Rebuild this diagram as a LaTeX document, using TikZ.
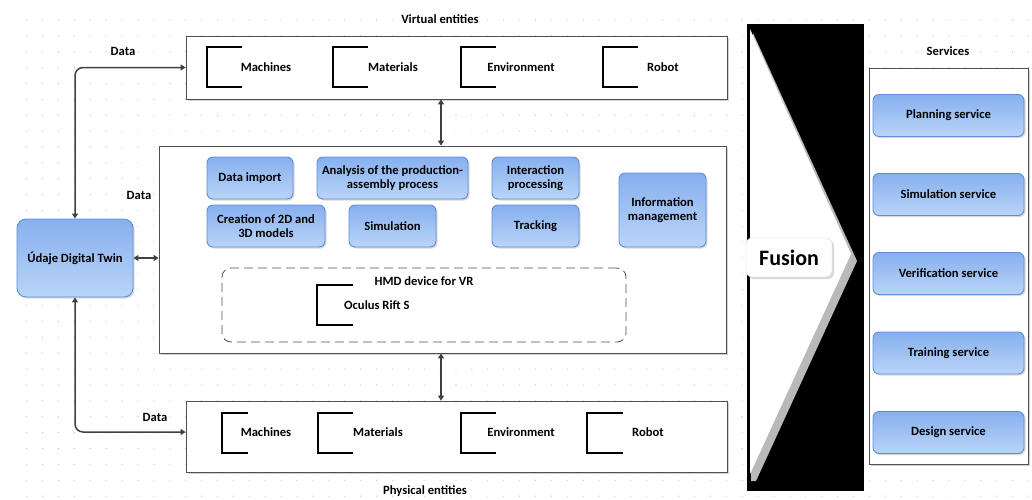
\documentclass[tikz,border=0pt]{standalone}
\usepackage{fontspec}
\setmainfont{Carlito}
\usetikzlibrary{arrows.meta,shadows,calc}
\definecolor{btop}{HTML}{86B0EE}
\definecolor{bbot}{HTML}{BAD4F8}
\definecolor{bdraw}{HTML}{5F8ED6}
\definecolor{linec}{HTML}{404040}
\definecolor{dotc}{HTML}{B0B0C4}
\definecolor{framec}{HTML}{505050}
\begin{document}
\begin{tikzpicture}[x=1pt,y=-1pt,
  font=\bfseries\fontsize{12.6}{13.5}\selectfont,
  framebox/.style={draw=framec, line width=0.8pt, fill=white,
    drop shadow={shadow xshift=2pt,shadow yshift=-2pt,opacity=0.35}},
  btn/.style={draw=bdraw, line width=0.9pt, rounded corners=6pt,
    top color=btop, bottom color=bbot, align=center, inner sep=2pt,
    drop shadow={shadow xshift=1.5pt,shadow yshift=-1.5pt,opacity=0.3}},
  bracketline/.style={line width=1.4pt, black},
  conn/.style={draw=linec, line width=1.5pt,
    {Triangle[length=5pt,width=6pt]}-{Triangle[length=5pt,width=6pt]}},
  lbl/.style={inner sep=0pt},
  brk/.pic={\draw[bracketline] (#1,0) -- (0,0) -- (0,40) -- (#1,40);}
]
\useasboundingbox (0,0) rectangle (1032,499);
\fill[white] (0,0) rectangle (1032,499);
% dotted grid
\foreach \i in {0,...,63}
  \foreach \j in {0,...,30}
    \fill[dotc] (26.7+\i*15.9, 20+\j*15.87) circle[radius=0.55pt];

% frames
\node[framebox, minimum width=541, minimum height=63] (top) at (456.5,67.5) {};
\node[framebox, minimum width=567, minimum height=207] (mid) at (442.5,249.5) {};
\node[framebox, minimum width=541, minimum height=71] (bot) at (456.5,436.5) {};
\node[framebox, minimum width=159, minimum height=396] (srv) at (948.5,266) {};

% labels
\node[lbl] (vlab) at (440,19) {Virtual entities};
\node[lbl] (plab) at (425,491) {Physical entities};
\node[lbl] (slab) at (948,51) {Services};
\node[lbl] (d1) at (123,51) {Data};
\node[lbl] (d2) at (139,195) {Data};
\node[lbl] (d3) at (155,417) {Data};

% top box content
\pic at (207,47) {brk=35};
\pic at (333,47) {brk=35};
\pic at (461,47) {brk=35};
\pic at (603,47) {brk=35};
\node[lbl] (vmach) at (266,67) {Machines};
\node[lbl] (vmat) at (393,67) {Materials};
\node[lbl] (venv) at (521,67) {Environment};
\node[lbl] (vrob) at (663,67) {Robot};

% bottom box content
\pic at (222,413) {brk=26};
\pic at (318,413) {brk=35};
\pic at (461,413) {brk=35};
\pic at (587,413) {brk=36};
\node[lbl] (pmach) at (266,432) {Machines};
\node[lbl] (pmat) at (378,432) {Materials};
\node[lbl] (penv) at (521,432) {Environment};
\node[lbl] (prob) at (648,432) {Robot};

% middle box content
\node[btn, minimum width=86, minimum height=42] (imp) at (250,178) {Data import};
\node[btn, minimum width=151, minimum height=42] (ana) at (392.5,178) {Analysis of the production-\\assembly process};
\node[btn, minimum width=87, minimum height=42] (inter) at (535.5,178) {Interaction\\processing};
\node[btn, minimum width=118, minimum height=42] (cre) at (266,226) {Creation of 2D and\\3D models};
\node[btn, minimum width=87, minimum height=42] (sim) at (392.5,226) {Simulation};
\node[btn, minimum width=87, minimum height=42] (trk) at (535.5,226) {Tracking};
\node[btn, minimum width=87, minimum height=74] (info) at (662.5,210) {Information\\management};

\node[draw=framec, dash pattern=on 9pt off 5pt, line width=0.8pt, rounded corners=9pt,
  minimum width=404, minimum height=74] (hmd) at (424,305) {};
\node[lbl] (hmdlab) at (424,281) {HMD device for VR};
\pic at (317,285) {brk=36};
\node[lbl, anchor=west] (ocu) at (344,305) {Oculus Rift S};

% digital twin
\node[btn, rounded corners=9pt, minimum width=116, minimum height=78] (dt) at (75,258) {Údaje Digital Twin};

% services
\node[btn, minimum width=151, minimum height=42] (s1) at (948.5,115.5) {Planning service};
\node[btn, minimum width=151, minimum height=42] (s2) at (948.5,194.5) {Simulation service};
\node[btn, minimum width=151, minimum height=42] (s3) at (948.5,273.5) {Verification service};
\node[btn, minimum width=151, minimum height=42] (s4) at (948.5,353) {Training service};
\node[btn, minimum width=151, minimum height=42] (s5) at (948.5,432.5) {Design service};

% fusion chevron
\fill[black] (747,24) rectangle (864,491);
\fill[gray!55] (753,33) -- (857,261) -- (756,481) -- (751,481) -- cycle;
\fill[white] (750,29) -- (851,254) -- (750,474) -- cycle;
\node[draw=gray!35, fill=white, rounded corners=6pt, minimum width=86, minimum height=39,
  font=\bfseries\fontsize{22}{23}\selectfont,
  drop shadow={shadow xshift=2pt,shadow yshift=-2pt,opacity=0.3}] (fus) at (789,257.5) {Fusion};

% connectors
\coordinate (ax) at (441,0);
\draw[conn] (ax |- top.south) -- (ax |- mid.north);
\draw[conn] (ax |- mid.south) -- (ax |- bot.north);
\draw[conn, rounded corners=8pt] (dt.north) |- (top.west);
\draw[conn, rounded corners=8pt] (dt.south) |- ($(bot.west)+(0,-4.5)$);
\draw[conn] (dt.east) -- (dt.east -| mid.west);
\end{tikzpicture}
\end{document}
